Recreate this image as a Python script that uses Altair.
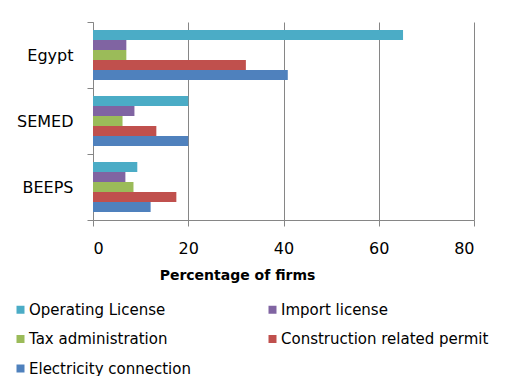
import altair as alt
import pandas as pd

groups = ["Egypt", "SEMED", "BEEPS"]
series = ["Operating License", "Import license", "Tax administration",
          "Construction related permit", "Electricity connection"]
colors = ["#4BACC6", "#8064A2", "#9BBB59", "#C0504D", "#4F81BD"]
egypt = [65.1, 7.0, 7.0, 32.1, 40.9]
semed = [20.0, 8.7, 6.2, 13.3, 20.0]
beeps = [9.3, 6.8, 8.5, 17.5, 12.1]
x_ticks = [0, 20, 40, 60, 80]
# legend is filled column by column: left column first, then right column
legend_order = ["Operating License", "Tax administration", "Electricity connection",
                "Import license", "Construction related permit"]

rows = []
for g, vals in zip(groups, [egypt, semed, beeps]):
    for s, v in zip(series, vals):
        rows.append({"group": g, "series": s, "value": v})
df = pd.DataFrame(rows)
color_of = dict(zip(series, colors))

FONT = "DejaVu Sans"
GRID = "#868686"

bars = alt.Chart(df).mark_bar().encode(
    y=alt.Y("group:N", sort=groups, title=None,
            scale=alt.Scale(paddingInner=0, paddingOuter=0),
            axis=alt.Axis(tickBand="extent", grid=False, domainColor=GRID,
                          tickColor=GRID, tickSize=6, labelPadding=14,
                          labelFontSize=16, labelColor="#000000", labelFont=FONT)),
    yOffset=alt.YOffset("series:N", sort=series,
                        scale=alt.Scale(paddingInner=0, paddingOuter=0.8)),
    x=alt.X("value:Q", title="Percentage of firms",
            scale=alt.Scale(domain=[0, 80], nice=False),
            axis=alt.Axis(values=x_ticks, grid=True, gridColor=GRID, gridOpacity=1,
                          domainColor=GRID, tickColor=GRID, tickSize=6,
                          labelPadding=14, labelFontSize=16, labelColor="#000000",
                          labelFont=FONT, titleFont=FONT, titleFontSize=14,
                          titleFontWeight="bold", titleColor="#000000",
                          titlePadding=12, titleX=144)),
    color=alt.Color("series:N", sort=legend_order,
                    scale=alt.Scale(domain=legend_order,
                                    range=[color_of[s] for s in legend_order]),
                    legend=alt.Legend(title=None, orient="none", legendX=-80,
                                      legendY=280, columns=2, columnPadding=74,
                                      symbolType="square", symbolSize=64,
                                      symbolStrokeWidth=0, labelFontSize=15,
                                      labelFont=FONT, labelColor="#000000",
                                      labelLimit=400,
                                      rowPadding=13.5, labelOffset=1)),
)

chart = bars.properties(
    width=381, height=198,
    autosize=alt.AutoSizeParams(type="none"),
    padding={"left": 85, "top": 14, "right": 20, "bottom": 156},
).configure_view(stroke=None)

chart.save("out.html", embed_options={"renderer": "svg", "actions": False})
